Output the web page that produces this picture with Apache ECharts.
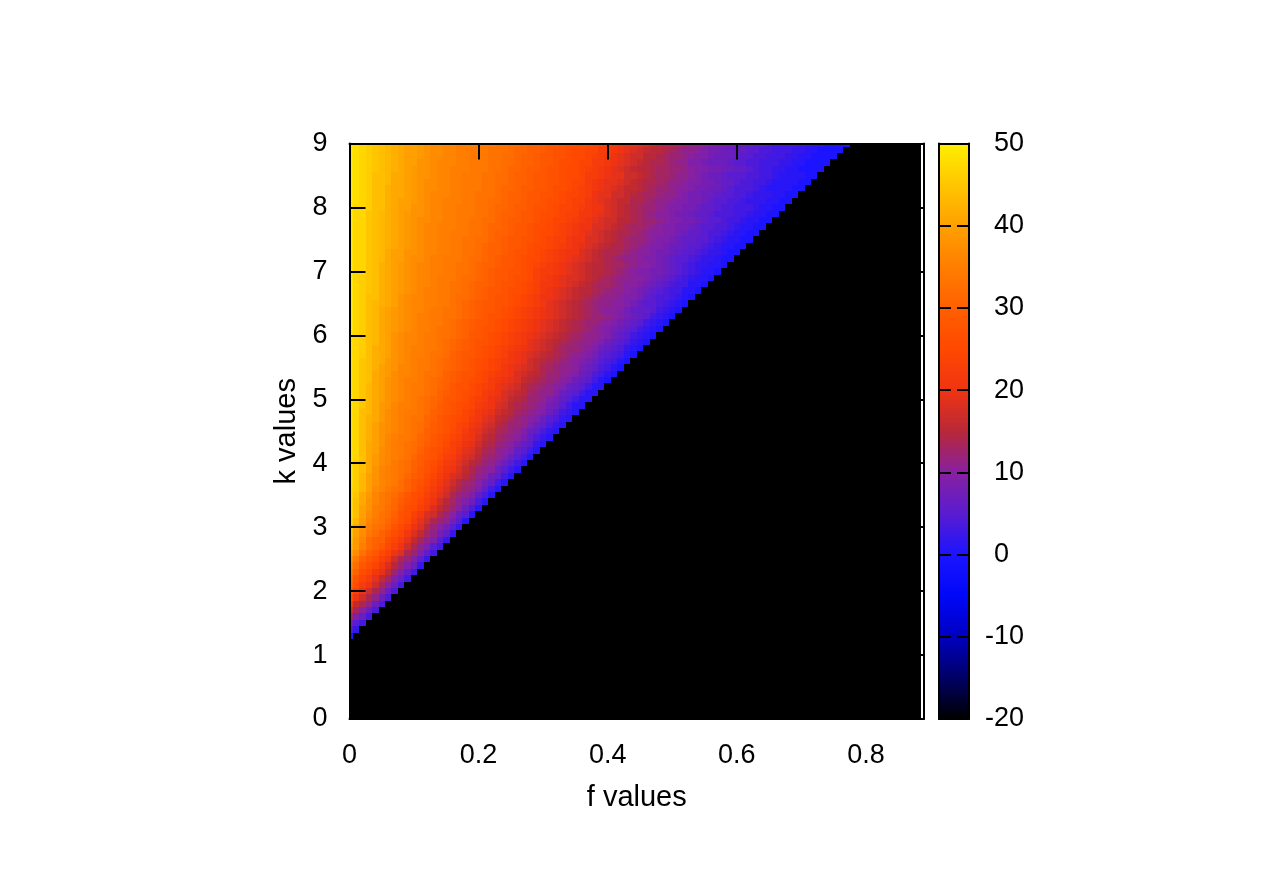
<!DOCTYPE html>
<html>
<head>
<meta charset="utf-8">
<script src="https://cdn.jsdelivr.net/npm/echarts@6/dist/echarts.min.js"></script>
<style>
html,body{margin:0;padding:0;background:#ffffff;}
#chart{width:1275px;height:892px;}
</style>
</head>
<body>
<div id="chart"></div>
<script>
// ---- data ----
const fValues = [0,0.01,0.02,0.03,0.04,0.05,0.06,0.07,0.08,0.09,0.1,0.11,0.12,0.13,0.14,0.15,0.16,0.17,0.18,0.19,0.2,0.21,0.22,0.23,0.24,0.25,0.26,0.27,0.28,0.29,0.3,0.31,0.32,0.33,0.34,0.35,0.36,0.37,0.38,0.39,0.4,0.41,0.42,0.43,0.44,0.45,0.46,0.47,0.48,0.49,0.5,0.51,0.52,0.53,0.54,0.55,0.56,0.57,0.58,0.59,0.6,0.61,0.62,0.63,0.64,0.65,0.66,0.67,0.68,0.69,0.7,0.71,0.72,0.73,0.74,0.75,0.76,0.77,0.78,0.79,0.8,0.81,0.82,0.83,0.84,0.85,0.86,0.87,0.88];
const kValues = [0,0.1,0.2,0.3,0.4,0.5,0.6,0.7,0.8,0.9,1,1.1,1.2,1.3,1.4,1.5,1.6,1.7,1.8,1.9,2,2.1,2.2,2.3,2.4,2.5,2.6,2.7,2.8,2.9,3,3.1,3.2,3.3,3.4,3.5,3.6,3.7,3.8,3.9,4,4.1,4.2,4.3,4.4,4.5,4.6,4.7,4.8,4.9,5,5.1,5.2,5.3,5.4,5.5,5.6,5.7,5.8,5.9,6,6.1,6.2,6.3,6.4,6.5,6.6,6.7,6.8,6.9,7,7.1,7.2,7.3,7.4,7.5,7.6,7.7,7.8,7.9,8,8.1,8.2,8.3,8.4,8.5,8.6,8.7,8.8,8.9,9];
const xTicks = [0,0.2,0.4,0.6,0.8];
const colorTicks = [-20,-10,0,10,20,30,40,50];
// value of every black cell (at or below the bottom of the colour scale)
const BLACK_LEVEL = -20;
// rows below k = 1.3 are entirely black; rowValues[r] is the row at kValues[FIRST_ROW + r],
// listing cells from f = 0 onward; cells past the end of a row are black
const FIRST_ROW = 13;
const rowValues = [
[0],
[4,2],
[8,5,3],
[13,9,7,3],
[17,13,10,7,4],
[21,16,14,11,7,4],
[25,20,17,14,11,7,4],
[28,23,20,17,14,11,7,4],
[30,26,22,20,17,13,10,7,3],
[32,27,24,22,19,16,13,9,7,3],
[34,30,26,24,21,19,16,12,9,6,3],
[36,32,28,26,24,21,18,15,12,9,7,2],
[38,34,30,28,26,23,21,17,14,12,9,6,2],
[40,37,33,30,28,25,23,20,18,14,12,9,6,3],
[42,39,35,32,30,28,25,23,20,17,14,11,9,5,3],
[43,39,36,32,30,30,26,24,22,19,16,13,11,9,5,2],
[44,40,37,34,32,30,28,26,24,21,18,16,13,11,8,6,2],
[45,41,38,35,33,32,30,27,25,23,20,18,15,12,10,8,5,2],
[46,43,39,36,34,33,31,29,27,25,22,19,17,14,12,11,8,5,1],
[47,44,40,37,35,33,32,30,27,26,23,21,18,17,14,12,10,7,5,1],
[47,44,40,38,35,34,32,31,28,26,25,23,21,18,16,14,12,10,7,4,1],
[47,44,41,38,36,34,33,31,29,27,26,24,22,20,17,15,13,11,9,7,4,1],
[47,45,41,39,36,34,33,32,30,28,26,25,23,21,19,17,14,12,11,9,6,4,1],
[47,46,43,40,37,36,34,33,32,30,28,26,24,22,20,18,16,14,12,11,9,6,3,1],
[48,46,43,40,38,36,35,34,32,30,28,27,25,23,21,19,17,15,13,12,10,8,6,3,1],
[48,46,43,40,38,36,35,34,33,31,29,28,26,24,22,20,18,17,15,13,11,10,7,6,3,1],
[48,46,44,41,38,36,35,34,33,32,30,28,27,25,23,21,20,18,16,14,12,11,10,7,5,3,1],
[48,46,44,41,39,37,36,34,33,32,30,29,27,26,24,22,21,19,17,15,14,12,11,9,7,5,3,1],
[48,47,44,41,39,37,36,35,34,33,31,29,28,27,25,23,22,20,18,17,15,13,12,11,9,7,5,3,1],
[48,47,44,41,40,37,36,35,34,33,32,30,28,27,26,24,23,21,19,18,16,14,13,11,10,9,6,5,3,1],
[48,47,44,41,40,38,36,35,34,33,32,31,29,28,27,25,23,22,20,19,17,15,14,12,11,10,8,6,5,2,1],
[48,47,44,42,40,38,36,35,34,34,33,31,30,28,27,26,24,23,21,20,18,16,15,13,12,11,10,8,6,4,2,1],
[48,47,44,42,40,38,37,36,35,34,33,32,30,29,28,27,25,24,22,20,19,17,16,14,13,12,11,9,7,6,4,2,1],
[48,47,44,42,40,38,37,36,35,34,33,32,31,29,28,27,26,24,23,21,20,18,17,15,14,12,12,11,9,7,6,4,2,1],
[48,47,44,42,41,39,37,36,35,34,33,33,31,30,28,27,26,25,24,22,21,19,18,16,15,14,12,11,10,9,7,5,4,2,1],
[48,47,44,43,41,39,37,36,35,34,34,33,32,30,29,28,27,26,24,23,21,20,19,17,16,15,13,12,11,10,9,7,5,3,2,1],
[48,47,45,43,41,39,38,36,35,35,34,33,32,31,29,28,27,26,25,24,22,21,20,18,17,15,14,13,12,11,10,8,7,5,3,1,1],
[48,47,45,43,41,40,38,37,36,35,34,33,32,31,30,28,28,27,26,24,23,22,20,19,18,16,15,14,12,12,11,9,8,6,5,3,1,1],
[48,47,45,43,41,40,38,37,36,35,34,34,33,32,30,29,28,27,26,25,24,22,21,20,18,17,16,15,13,12,11,11,9,7,6,5,3,1,1],
[48,47,45,43,41,40,38,37,36,35,34,34,33,32,31,30,28,27,27,25,24,23,22,20,19,18,17,15,14,13,12,11,10,9,7,6,5,3,1,1],
[48,47,45,44,41,40,38,37,36,35,35,34,33,32,31,30,29,28,27,26,25,24,22,21,20,19,18,16,15,14,13,12,11,10,9,7,6,5,3,1,0],
[48,47,45,44,41,40,39,37,36,36,35,34,33,33,32,30,29,28,27,27,25,24,23,22,21,20,18,17,16,15,14,12,12,11,10,9,7,6,4,3,1,0],
[48,47,45,44,42,40,39,38,36,36,35,34,34,33,32,31,30,29,28,27,26,25,24,23,21,20,19,18,17,16,14,13,12,11,11,10,8,7,6,4,3,1,0],
[48,47,45,44,42,41,39,38,37,36,35,34,34,33,32,31,30,29,28,27,26,25,24,23,22,21,20,19,17,16,15,14,13,12,11,10,9,8,7,5,4,3,1,0],
[48,47,46,44,42,41,40,38,37,36,35,35,34,33,33,32,30,29,28,28,27,26,25,24,23,21,20,19,18,17,16,15,14,13,12,11,10,9,8,6,5,4,3,1,0],
[48,47,46,44,42,41,40,38,37,36,35,35,34,34,33,32,31,30,29,28,27,26,25,24,23,22,21,20,19,18,17,16,14,13,12,12,11,10,9,7,6,5,4,2,1,0],
[48,47,46,44,43,41,40,38,37,36,36,35,34,34,33,32,31,30,29,28,27,27,26,25,24,23,22,21,19,18,17,16,15,14,13,12,11,11,10,9,7,6,5,4,2,1,0],
[48,47,46,44,43,41,40,38,37,36,36,35,34,34,33,33,32,31,30,28,28,27,26,25,24,23,22,21,20,19,18,17,16,15,14,13,12,11,11,10,9,7,6,5,3,2,1,0],
[49,47,46,44,43,41,40,39,38,37,36,35,35,34,33,33,32,31,30,29,28,27,27,26,25,24,23,22,21,20,19,18,17,16,15,14,13,12,11,10,9,8,7,6,5,3,2,1,0],
[49,47,46,44,43,41,40,39,38,37,36,35,35,34,34,33,32,31,30,29,28,28,27,26,25,24,23,22,21,20,19,18,17,16,15,14,13,12,12,11,10,9,8,7,6,5,3,2,1,0],
[49,47,46,44,43,41,40,39,38,37,36,35,35,34,34,33,33,32,31,30,29,28,27,27,26,25,24,23,22,21,20,19,18,17,16,15,14,13,12,12,11,10,9,8,7,6,5,3,2,1,0],
[49,47,46,44,43,41,40,39,38,37,36,36,35,34,34,33,33,32,31,30,29,28,28,27,26,25,24,23,22,21,20,19,18,17,16,15,14,13,12,11,10,10,9,8,6,6,6,5,3,2,1,0],
[49,47,46,44,43,42,41,40,38,37,36,36,35,35,34,34,33,32,31,30,29,28,28,27,27,26,25,24,23,22,21,19,18,17,16,15,14,13,12,11,11,10,10,9,8,6,5,5,4,3,2,1,0],
[49,47,46,44,44,42,41,40,38,37,36,36,35,35,34,34,33,32,32,31,30,29,28,27,27,26,25,24,23,22,20,20,19,18,17,16,15,14,13,12,11,11,10,9,9,8,6,5,4,4,3,2,1,0],
[49,47,46,45,44,42,41,40,39,38,37,36,35,35,34,34,33,33,32,31,30,29,28,28,27,26,26,25,24,23,21,20,19,18,17,16,15,15,14,13,12,11,11,10,9,8,7,6,5,4,3,3,1,1,0],
[49,47,46,45,44,42,41,40,39,38,37,36,36,35,34,34,33,33,32,31,30,30,29,28,27,27,26,25,24,23,21,21,20,19,18,17,16,15,14,13,13,12,11,10,10,9,8,7,6,5,4,3,3,1,1,0],
[49,47,46,45,44,42,41,40,39,38,37,36,36,35,34,34,34,33,32,32,31,30,29,28,28,27,26,26,25,23,22,21,20,19,18,18,17,16,15,14,13,12,11,11,10,10,9,8,7,6,5,4,3,2,1,1,0],
[49,47,47,45,44,42,41,40,39,38,37,36,36,35,35,34,34,33,33,32,31,30,29,28,28,27,27,26,25,23,22,22,21,20,19,18,17,16,15,15,14,13,12,11,10,9,9,8,8,7,6,5,4,3,2,1,1,0],
[49,47,47,45,44,42,41,40,39,38,37,36,36,35,35,34,34,33,33,32,31,30,30,29,28,28,27,26,25,24,23,22,21,20,19,18,17,16,15,15,14,13,13,12,11,10,10,9,8,7,6,5,4,3,2,2,1,1,0],
[49,47,47,45,44,43,41,40,40,38,37,37,36,35,35,34,34,34,33,32,32,31,30,29,28,28,27,26,25,25,24,23,22,21,20,19,18,17,16,15,14,13,12,11,11,10,9,9,8,7,6,5,5,4,3,2,2,1,0,0],
[49,47,47,45,44,43,41,40,40,38,38,37,36,36,35,35,34,34,33,33,32,31,30,30,29,28,27,27,26,25,24,23,22,21,20,20,18,17,16,15,14,14,13,12,11,10,10,9,8,8,7,6,5,5,4,3,2,2,1,0,0],
[49,47,47,45,44,43,42,41,40,39,38,37,36,36,35,35,34,34,33,33,32,31,30,30,29,28,28,27,26,25,25,24,23,22,21,20,19,18,17,16,15,14,14,13,12,11,10,9,9,8,7,7,6,5,5,4,3,2,1,1,0,0],
[49,47,47,45,44,43,42,41,40,39,38,37,36,36,35,35,34,34,33,33,32,32,31,30,29,28,28,27,27,26,25,24,23,23,21,20,20,18,18,17,16,15,14,13,12,12,11,10,9,9,8,7,6,6,5,5,4,3,2,1,1,0,0],
[49,47,47,45,44,43,42,41,40,39,38,37,36,36,35,35,34,34,34,33,33,32,31,30,30,29,28,28,27,26,25,25,24,23,22,21,20,19,18,17,16,15,14,14,13,12,11,10,10,9,9,8,7,6,6,5,4,4,3,2,1,1,0,0],
[49,47,47,45,44,43,42,41,40,39,38,37,36,36,35,35,35,34,34,33,33,32,31,31,30,29,28,28,27,26,26,25,24,23,22,21,20,20,18,18,17,16,15,14,13,13,12,11,10,9,9,8,8,7,6,5,5,4,4,3,2,1,1,0,0],
[49,47,47,45,44,43,42,41,40,39,38,37,37,36,36,35,35,34,34,33,33,32,32,31,30,29,29,28,28,27,26,25,24,24,23,22,21,20,19,18,17,17,15,15,14,13,12,12,11,10,9,9,8,8,7,6,5,5,4,3,3,2,1,1,0,0],
[49,47,47,45,44,43,42,41,40,39,38,38,37,36,36,35,35,34,34,34,33,33,32,31,30,30,29,28,28,27,26,26,25,24,23,23,21,21,20,19,18,17,16,15,14,13,12,11,10,10,9,8,8,7,6,6,5,4,4,4,3,3,2,1,1,0,0],
[49,47,47,46,44,44,42,41,40,40,38,38,37,36,36,35,35,34,34,34,33,33,32,31,31,30,29,29,28,27,27,26,25,24,24,23,22,21,20,20,18,17,16,15,14,13,12,12,11,10,9,9,8,8,7,6,6,5,4,4,3,3,3,2,1,1,0,0],
[49,48,47,46,44,44,42,41,40,40,39,38,37,36,36,35,35,35,34,34,33,33,32,32,31,30,30,29,28,28,27,26,26,25,24,23,23,21,20,19,18,17,16,16,14,14,13,12,11,11,10,9,9,8,8,7,6,5,5,4,4,3,2,2,2,1,1,0,0],
[49,48,47,46,44,44,42,41,41,40,39,38,37,36,36,36,35,35,34,34,33,33,33,32,31,30,30,29,28,28,27,27,26,25,24,24,23,22,20,19,19,17,17,16,15,14,13,13,12,11,11,10,9,8,8,7,7,6,5,5,4,4,3,2,2,2,1,1,0,0],
[49,48,47,46,44,44,42,41,41,40,39,38,37,37,36,36,35,35,34,34,34,33,33,32,31,31,30,29,29,28,28,27,26,26,25,24,23,22,21,20,19,18,17,16,16,15,14,13,12,12,11,10,10,9,8,8,7,7,6,5,4,4,4,3,2,1,1,1,1,0,0],
[49,48,47,46,44,44,43,41,41,40,39,38,37,37,36,36,35,35,34,34,34,33,33,32,32,31,30,30,29,28,28,27,27,26,25,24,24,22,21,20,19,19,18,17,16,15,14,14,13,12,11,11,10,9,9,8,8,7,6,6,5,4,4,3,3,2,1,1,1,1,0,0],
[49,48,47,46,44,44,43,41,41,40,39,38,38,37,36,36,35,35,34,34,34,33,33,32,32,31,30,30,29,28,28,27,27,26,25,25,24,22,22,21,20,19,19,17,17,16,15,14,13,13,12,11,11,10,9,8,7,7,6,5,5,5,4,4,3,3,2,1,1,1,1,0,0],
[49,48,47,46,45,44,43,42,41,40,39,38,38,37,36,36,35,35,35,34,34,34,33,33,32,31,31,30,29,29,28,27,27,26,25,25,24,23,22,21,20,19,18,17,16,15,15,14,13,13,12,12,11,10,9,9,8,8,7,7,6,6,5,4,3,3,2,2,1,1,0,0,0,0],
[49,48,47,46,45,44,43,42,41,40,40,38,38,37,36,36,36,35,35,34,34,34,33,33,32,32,31,30,30,29,28,28,27,26,26,25,24,24,22,22,21,20,19,18,17,16,15,14,14,13,12,11,11,9,9,8,7,7,7,6,5,5,4,4,3,3,3,2,2,1,1,0,0,0,0],
[49,48,47,46,45,44,43,42,41,40,40,39,38,37,37,36,36,35,35,34,34,34,33,33,32,32,31,30,30,29,28,28,27,27,26,25,25,24,23,22,21,20,19,18,17,17,15,15,14,13,12,12,11,10,9,9,8,7,7,7,6,5,5,4,4,3,3,3,2,2,1,1,0,0,0,0],
[49,48,47,46,45,44,43,42,41,40,40,39,38,37,37,36,36,35,35,34,34,34,33,33,33,32,31,31,30,30,29,28,27,27,26,25,25,24,24,22,22,21,20,19,18,17,16,15,15,14,13,12,11,11,10,9,8,8,7,7,6,6,5,5,4,4,3,3,3,2,2,1,1,0,0,0,0],
[49,48,47,46,45,44,43,42,41,40,40,39,38,37,37,36,36,35,35,35,34,34,34,33,33,32,32,31,30,30,29,28,28,27,26,26,25,25,24,23,22,21,20,19,19,18,17,16,15,14,14,13,12,11,11,10,9,8,8,7,7,6,6,5,5,4,3,3,3,3,2,2,1,1,0,0,0,0]
];

// colour scale, evenly spaced from -20 to 50 in steps of 5
const paletteColors = ['#000000','#000066','#0000c0','#0008f8','#1c14ff','#5a1cd0','#8820a0','#b82838','#f03412','#ff4800','#ff6000','#ff7e00','#ffa000','#ffc600','#ffef00'];

// ---- build the cell table ----
const cells = [];
for (let j = 0; j < kValues.length; j++) {
  const row = j >= FIRST_ROW ? rowValues[j - FIRST_ROW] : [];
  for (let i = 0; i < fValues.length; i++) {
    cells.push([fValues[i], kValues[j], i < row.length ? row[i] : BLACK_LEVEL]);
  }
}
const dF = fValues[1] - fValues[0];
const dK = kValues[1] - kValues[0];

const FONT = "'Liberation Sans', Arial, Helvetica, sans-serif";
const black = '#000000';

function renderCell(params, api) {
  const f = api.value(0), k = api.value(1);
  const p0 = api.coord([f - dF / 2, k + dK / 2]);
  const p1 = api.coord([f + dF / 2, k - dK / 2]);
  const cs = params.coordSys;
  const clipped = echarts.graphic.clipRectByRect(
    { x: p0[0], y: p0[1], width: p1[0] - p0[0], height: p1[1] - p0[1] },
    { x: cs.x, y: cs.y, width: cs.width, height: cs.height }
  );
  if (!clipped) return;
  const x0 = Math.round(clipped.x), y0 = Math.round(clipped.y);
  const x1 = Math.round(clipped.x + clipped.width), y1 = Math.round(clipped.y + clipped.height);
  if (x1 <= x0 || y1 <= y0) return;
  return {
    type: 'rect',
    shape: { x: x0, y: y0, width: x1 - x0, height: y1 - y0 },
    style: { fill: api.visual('color') }
  };
}

function renderColorBar(params, api) {
  const pTop = api.coord([0, colorTicks[colorTicks.length - 1]]);
  const pBot = api.coord([1, colorTicks[0]]);
  const stops = paletteColors.map((c, idx) => ({ offset: idx / (paletteColors.length - 1), color: c }));
  return {
    type: 'rect',
    shape: { x: pTop[0], y: pTop[1], width: pBot[0] - pTop[0], height: pBot[1] - pTop[1] },
    style: { fill: new echarts.graphic.LinearGradient(0, 1, 0, 0, stops) }
  };
}

const chart = echarts.init(document.getElementById('chart'), null, { renderer: 'canvas' });

const lineStyle = { color: black, width: 2 };
const mainX = {
  type: 'value', min: 0, max: 0.89, interval: 0.2, gridIndex: 0, z: 10,
  splitLine: { show: false },
  axisLine: { show: true, onZero: false, lineStyle: lineStyle },
  axisTick: { show: true, inside: true, length: 16, lineStyle: lineStyle }
};
const mainY = {
  type: 'value', min: 0, max: 9, interval: 1, gridIndex: 0, z: 10,
  splitLine: { show: false },
  axisLine: { show: true, onZero: false, lineStyle: lineStyle },
  axisTick: { show: true, inside: true, length: 16, lineStyle: lineStyle }
};

const option = {
  backgroundColor: '#ffffff',
  animation: false,
  textStyle: { fontFamily: FONT },
  grid: [
    { left: 349.5, top: 143.5, width: 574.5, height: 575.5 },
    { left: 939, top: 143.5, width: 30, height: 575.5 }
  ],
  visualMap: {
    type: 'continuous', show: false, seriesIndex: 0, dimension: 2,
    min: colorTicks[0], max: colorTicks[colorTicks.length - 1],
    inRange: { color: paletteColors }
  },
  xAxis: [
    Object.assign({}, mainX, {
      position: 'bottom',
      name: 'f values', nameLocation: 'middle', nameGap: 64,
      nameTextStyle: { fontSize: 29, color: black, fontFamily: FONT },
      axisLabel: {
        show: true, fontSize: 27, color: black, margin: 23, fontFamily: FONT, showMaxLabel: false,
        formatter: v => {
          const r = Math.round(v * 10) / 10;
          if (xTicks.indexOf(r) < 0 || Math.abs(v - r) > 1e-6) return '';
          return r === 0 ? '0' : r.toFixed(1);
        }
      }
    }),
    Object.assign({}, mainX, { position: 'top', axisLabel: { show: false } }),
    { type: 'value', gridIndex: 1, min: 0, max: 1, position: 'bottom', z: 10,
      axisLine: { show: true, onZero: false, lineStyle: lineStyle }, axisTick: { show: false },
      axisLabel: { show: false }, splitLine: { show: false } },
    { type: 'value', gridIndex: 1, min: 0, max: 1, position: 'top', z: 10,
      axisLine: { show: true, onZero: false, lineStyle: lineStyle }, axisTick: { show: false },
      axisLabel: { show: false }, splitLine: { show: false } }
  ],
  yAxis: [
    Object.assign({}, mainY, {
      position: 'left',
      name: 'k values', nameLocation: 'middle', nameGap: 48, nameRotate: 90,
      nameTextStyle: { fontSize: 29, color: black, fontFamily: FONT },
      axisLabel: { show: true, fontSize: 27, color: black, margin: 22, fontFamily: FONT }
    }),
    Object.assign({}, mainY, { position: 'right', axisLabel: { show: false } }),
    { type: 'value', gridIndex: 1, min: colorTicks[0], max: colorTicks[colorTicks.length - 1], interval: 10,
      position: 'right', z: 10, splitLine: { show: false },
      axisLine: { show: true, onZero: false, lineStyle: lineStyle },
      axisTick: { show: true, inside: true, length: 12, lineStyle: lineStyle },
      axisLabel: {
        show: true, fontSize: 27, color: black, margin: 16, align: 'left', fontFamily: FONT,
        formatter: v => v < 0 ? '{n|' + v + '}' : '{p|' + v + '}',
        rich: {
          n: { fontSize: 27, color: black, fontFamily: FONT },
          p: { fontSize: 27, color: black, fontFamily: FONT, padding: [0, 0, 0, 9] }
        }
      } },
    { type: 'value', gridIndex: 1, min: colorTicks[0], max: colorTicks[colorTicks.length - 1], interval: 10,
      position: 'left', z: 10, splitLine: { show: false },
      axisLine: { show: true, onZero: false, lineStyle: lineStyle },
      axisTick: { show: true, inside: true, length: 12, lineStyle: lineStyle },
      axisLabel: { show: false } }
  ],
  series: [
    {
      type: 'custom', name: 'values', xAxisIndex: 0, yAxisIndex: 0,
      renderItem: renderCell, data: cells, encode: { x: 0, y: 1 },
      progressive: 0, silent: true, z: 2
    },
    {
      type: 'custom', name: 'colorbox', xAxisIndex: 2, yAxisIndex: 2,
      renderItem: renderColorBar, data: [[0, 0]], encode: { x: 0, y: 1 },
      silent: true, z: 2
    }
  ]
};
chart.setOption(option);
</script>
</body>
</html>
